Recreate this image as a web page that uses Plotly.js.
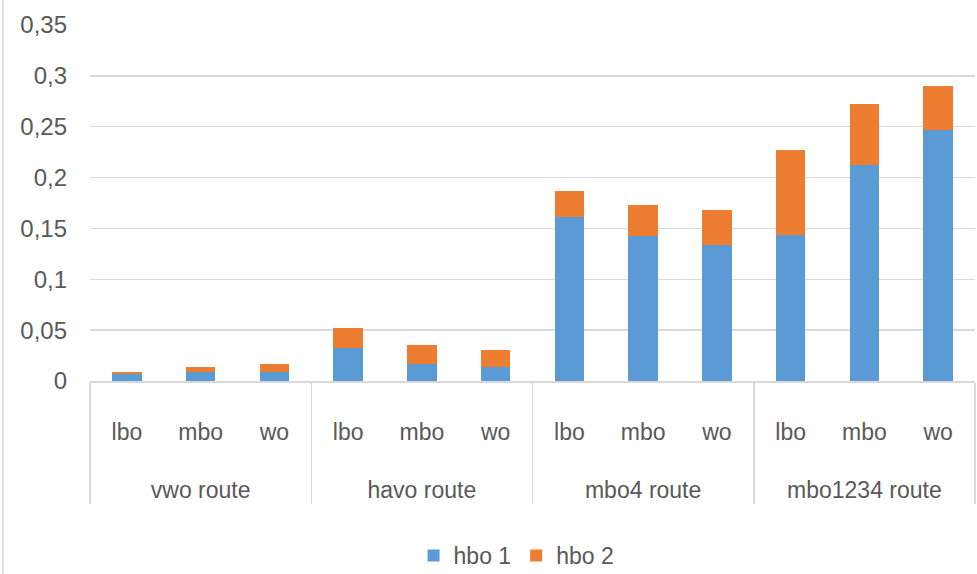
<!DOCTYPE html>
<html>
<head>
<meta charset="utf-8">
<script src="https://cdn.plot.ly/plotly-3.0.1.min.js"></script>
<style>
html,body{margin:0;padding:0;background:#fff;}
#chart{width:977px;height:574px;}
</style>
</head>
<body>
<div id="chart"></div>
<script>
const routes = ["vwo route","vwo route","vwo route","havo route","havo route","havo route","mbo4 route","mbo4 route","mbo4 route","mbo1234 route","mbo1234 route","mbo1234 route"];
const levels = ["lbo","mbo","wo","lbo","mbo","wo","lbo","mbo","wo","lbo","mbo","wo"];
const hbo1 = [0.007,0.009,0.009, 0.032,0.017,0.0135, 0.161,0.143,0.134, 0.144,0.212,0.2465];
const hbo2 = [0.002,0.0045,0.008, 0.020,0.0187,0.0165, 0.026,0.0305,0.034, 0.0836,0.060,0.044];
const seriesNames = ["hbo 1","hbo 2"];

const font = "Liberation Sans, Arial, sans-serif";
const gray = "#595959";
const pad = "\u00a0";
const levelLabels = levels.map(l => pad + "<br>" + l + "<br>" + pad);

const traces = [
  {type:"bar", name:seriesNames[0], x:[routes,levelLabels], y:hbo1, marker:{color:"#5B9BD5", line:{width:0}}},
  {type:"bar", name:seriesNames[1], x:[routes,levelLabels], y:hbo2, marker:{color:"#ED7D31", line:{width:0}}}
];

const layout = {
  width:977, height:574,
  barmode:"stack",
  bargap:0.6,
  separators:",.",
  paper_bgcolor:"#fff", plot_bgcolor:"#fff",
  margin:{l:90, r:2, t:25, b:193, autoexpand:false},
  font:{family:font, size:23, color:gray},
  xaxis:{
    type:"multicategory",
    showline:true, linecolor:"#d9d9d9", linewidth:1.5,
    showdividers:true, dividercolor:"#d9d9d9", dividerwidth:1.5,
    tickfont:{family:font, size:23, color:gray},
    ticks:"", showgrid:false, zeroline:false, automargin:false
  },
  yaxis:{
    range:[0,0.35], dtick:0.05, tick0:0,
    showgrid:true, gridcolor:"#d9d9d9", gridwidth:1.5,
    zeroline:false, showline:false, ticks:"",
    ticklabelstandoff:22, automargin:false,
    tickfont:{family:font, size:24, color:gray}
  },
  legend:{
    orientation:"h", x:0.482, xanchor:"center", y:-0.49, yanchor:"middle",
    font:{family:font, size:23, color:gray},
    traceorder:"normal", itemwidth:30
  },
  shapes:[
    {type:"line", xref:"paper", yref:"paper", x0:-0.0983, x1:-0.0983, y0:-0.55, y1:1.08, line:{color:"#d9d9d9", width:1.5}}
  ]
};

Plotly.newPlot("chart", traces, layout, {displayModeBar:false, staticPlot:true});
</script>
</body>
</html>
